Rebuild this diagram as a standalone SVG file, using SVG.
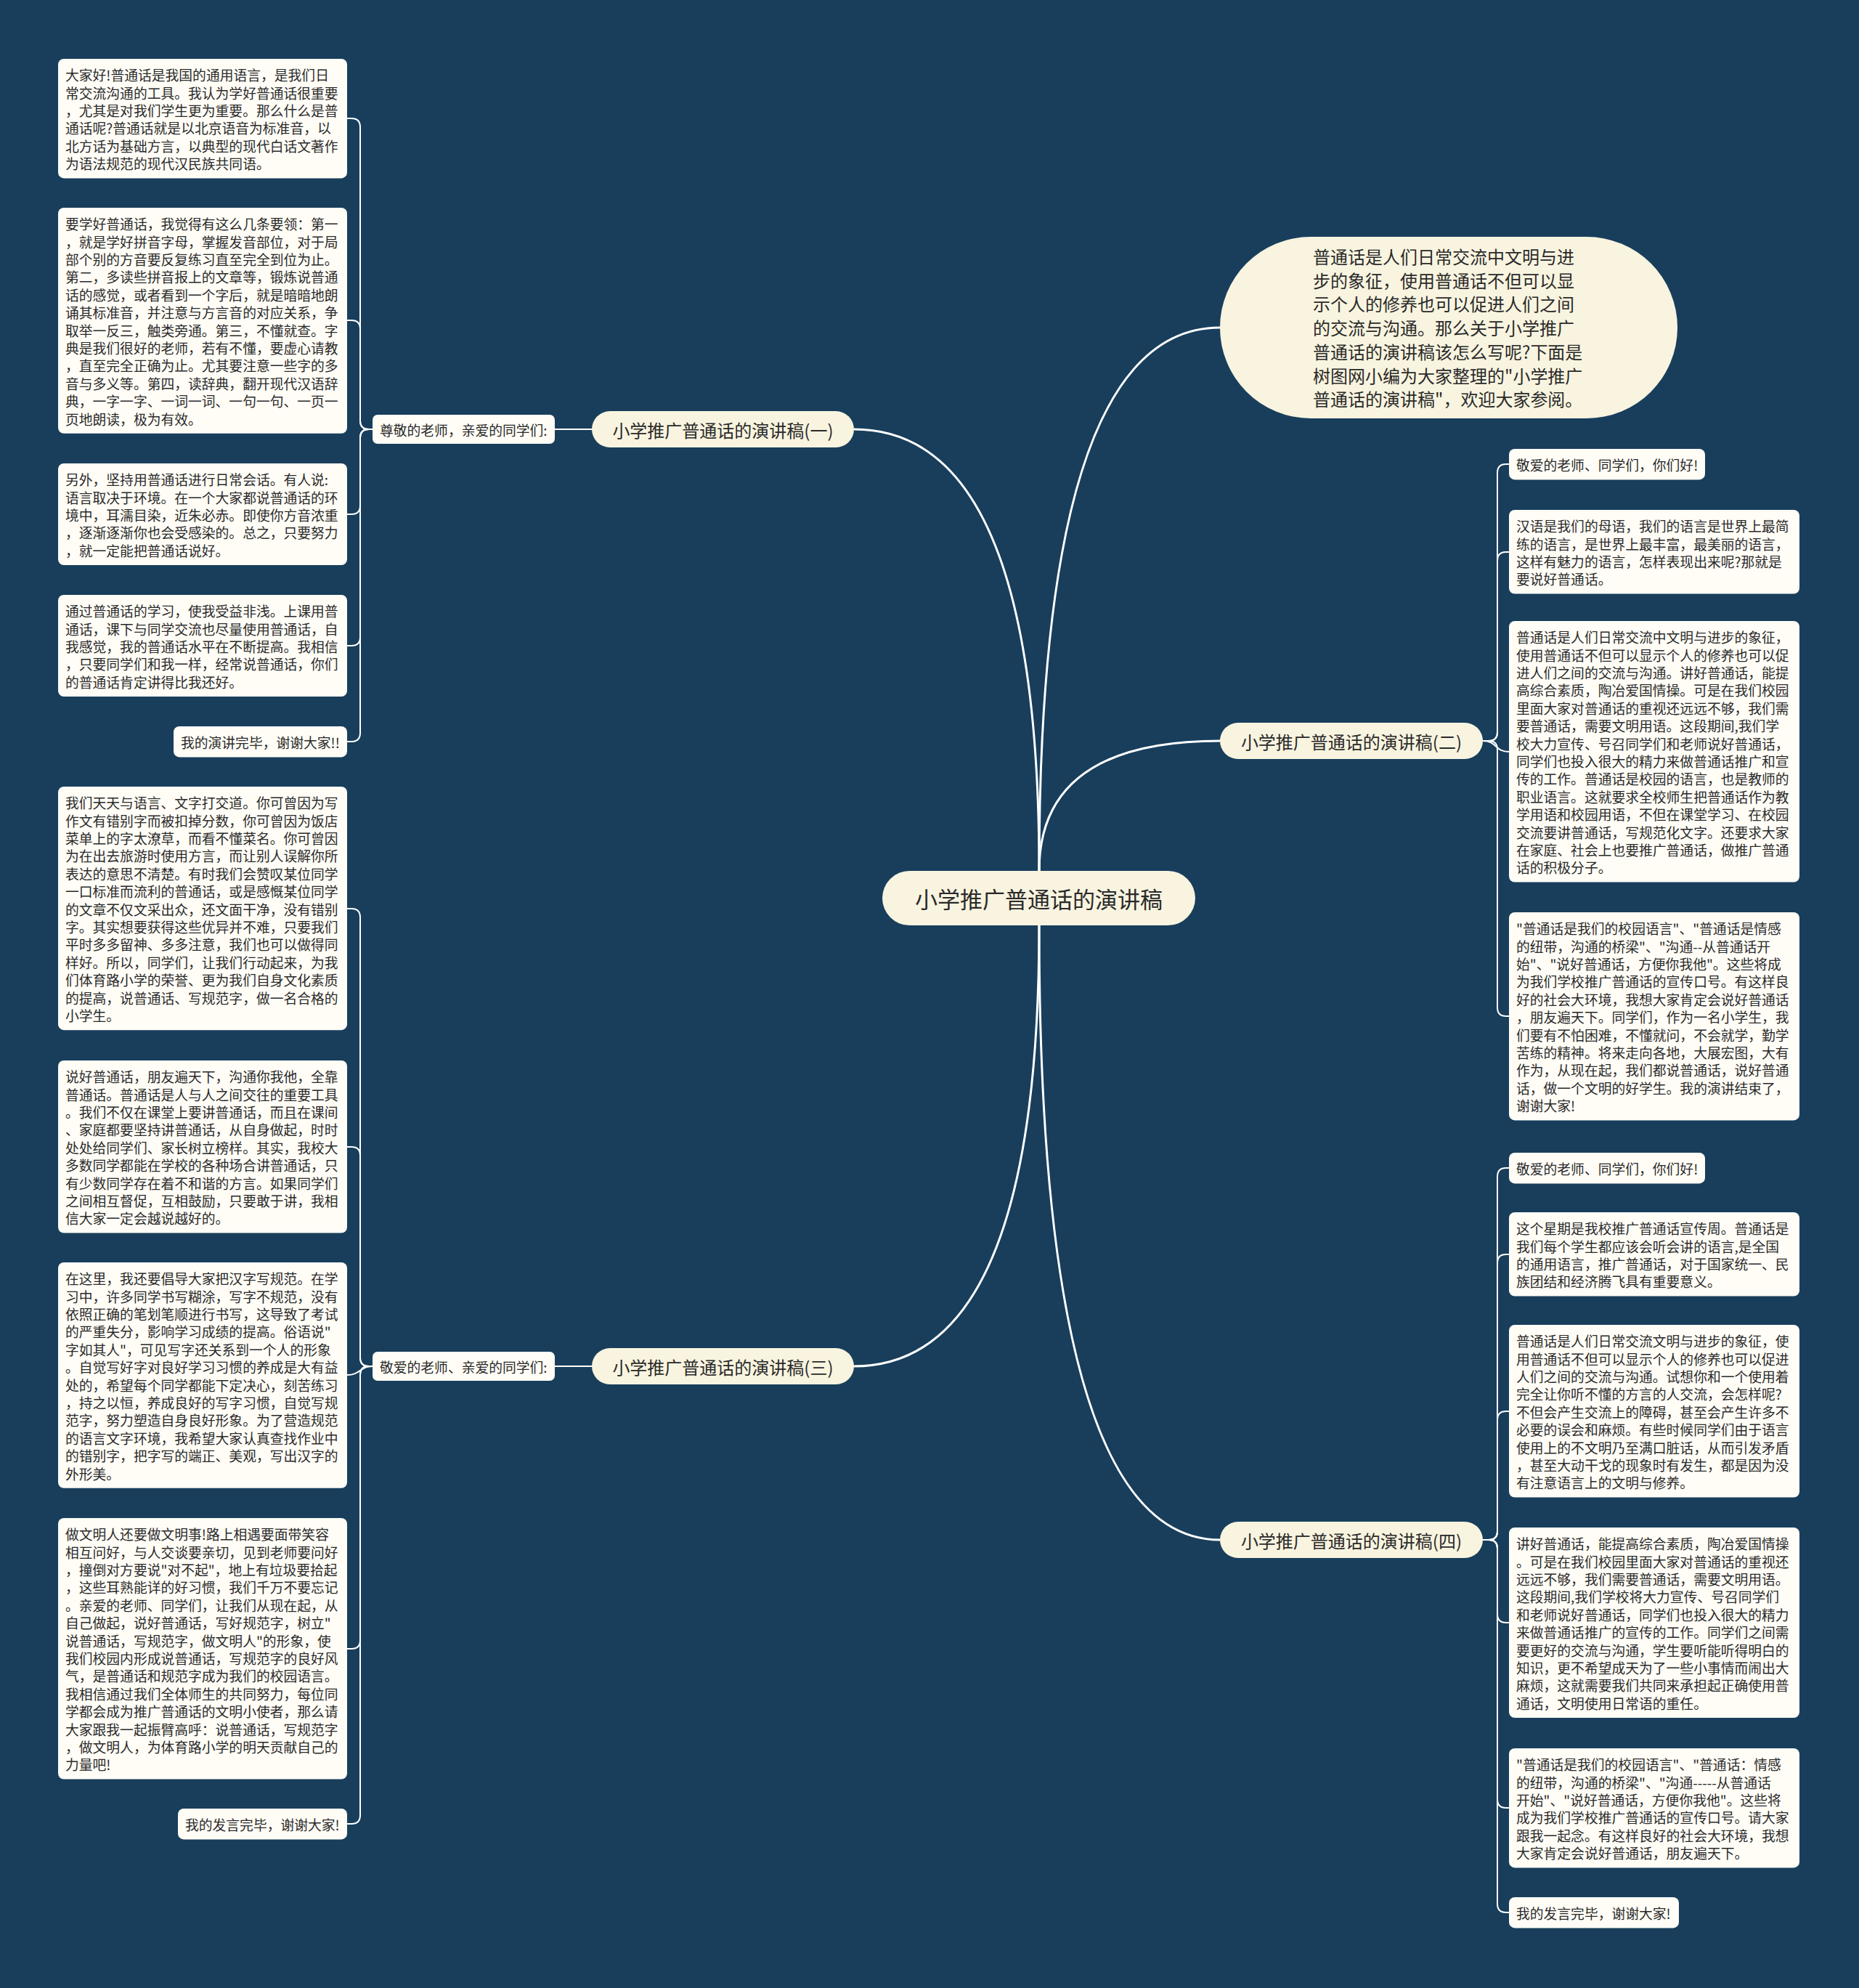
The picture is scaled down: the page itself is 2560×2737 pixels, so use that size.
<svg xmlns="http://www.w3.org/2000/svg" width="2560" height="2737" viewBox="0 0 2560 2737">
<style>
.bg{fill:#183E5C}
.leaf rect{fill:#FFFDF6}
.br rect,.root rect,.sum rect{fill:#F8F4DF}
text{font-family:"Noto Sans CJK SC","Noto Sans",sans-serif;fill:#2a2a2a;dominant-baseline:central}
.t{font-size:18.8px}
.bt{font-size:24px;text-anchor:middle}
.rt{font-size:31px;text-anchor:middle}
.st{font-size:24px}
.conn path{fill:none;stroke:#ffffff;stroke-width:2;stroke-linecap:round}
.conn path.main{stroke-width:3}
</style>
<rect class="bg" x="0" y="0" width="2560" height="2737"/>
<g class="conn" id="connectors">
<path class="main" d="M1431 1199 Q1431 591 1176 591"/>
<path class="main" d="M1431 1199 Q1431 451 1680 451"/>
<path class="main" d="M1431 1199 Q1431 1020 1680 1020"/>
<path class="main" d="M1431 1274 Q1431 1881 1176 1881"/>
<path class="main" d="M1431 1274 Q1431 2120 1680 2120"/>
<path d="M764 591 H815"/>
<path d="M764 1881 H815"/>
<path d="M513 591 H508 Q496 591 496 579 V175 Q496 163 484 163 H478"/>
<path d="M513 591 H508 Q496 591 496 579 V453 Q496 441 484 441 H478"/>
<path d="M513 591 H508 Q496 591 496 603 V696 Q496 708 484 708 H478"/>
<path d="M513 591 H508 Q496 591 496 603 V877 Q496 889 484 889 H478"/>
<path d="M513 591 H508 Q496 591 496 603 V1009 Q496 1021 484 1021 H478"/>
<path d="M513 1881 H508 Q496 1881 496 1869 V1263 Q496 1251 484 1251 H478"/>
<path d="M513 1881 H508 Q496 1881 496 1869 V1591 Q496 1579 484 1579 H478"/>
<path d="M513 1881 C496 1881 496 1893 478 1893"/>
<path d="M513 1881 H508 Q496 1881 496 1893 V2258 Q496 2270 484 2270 H478"/>
<path d="M513 1881 H508 Q496 1881 496 1893 V2499 Q496 2511 484 2511 H478"/>
<path d="M2042 1020 H2050 Q2062 1020 2062 1008 V651 Q2062 639 2074 639 H2078"/>
<path d="M2042 1020 H2050 Q2062 1020 2062 1008 V772 Q2062 760 2074 760 H2078"/>
<path d="M2042 1020 C2062 1020 2058 1035 2078 1035"/>
<path d="M2042 1020 H2050 Q2062 1020 2062 1032 V1387 Q2062 1399 2074 1399 H2078"/>
<path d="M2042 2120 H2050 Q2062 2120 2062 2108 V1620 Q2062 1608 2074 1608 H2078"/>
<path d="M2042 2120 H2050 Q2062 2120 2062 2108 V1739 Q2062 1727 2074 1727 H2078"/>
<path d="M2042 2120 H2050 Q2062 2120 2062 2108 V1955 Q2062 1943 2074 1943 H2078"/>
<path d="M2042 2120 H2050 Q2062 2120 2062 2132 V2222 Q2062 2234 2074 2234 H2078"/>
<path d="M2042 2120 H2050 Q2062 2120 2062 2132 V2477 Q2062 2489 2074 2489 H2078"/>
<path d="M2042 2120 H2050 Q2062 2120 2062 2132 V2621 Q2062 2633 2074 2633 H2078"/>
</g>

<g id="root" class="root"><rect x="1215" y="1199" width="431" height="75" rx="37.5"/><text class="rt" x="1430.5" y="1236.5">小学推广普通话的演讲稿</text></g>

<g id="summary" class="sum"><rect x="1680" y="326" width="630" height="250" rx="125"/>
<text class="st" x="1808" y="352"><tspan x="1808" dy="0">普通话是人们日常交流中文明与进</tspan><tspan x="1808" dy="32.7">步的象征，使用普通话不但可以显</tspan><tspan x="1808" dy="32.7">示个人的修养也可以促进人们之间</tspan><tspan x="1808" dy="32.7">的交流与沟通。那么关于小学推广</tspan><tspan x="1808" dy="32.7">普通话的演讲稿该怎么写呢?下面是</tspan><tspan x="1808" dy="32.7">树图网小编为大家整理的"小学推广</tspan><tspan x="1808" dy="32.7">普通话的演讲稿"，欢迎大家参阅。</tspan></text></g>

<g id="b1" class="br"><rect x="815" y="566" width="361" height="50" rx="25"/><text class="bt" x="995.5" y="591">小学推广普通话的演讲稿(一)</text></g>
<g id="b2" class="br"><rect x="1680" y="995" width="362" height="50" rx="25"/><text class="bt" x="1861" y="1020">小学推广普通话的演讲稿(二)</text></g>
<g id="b3" class="br"><rect x="815" y="1856" width="361" height="50" rx="25"/><text class="bt" x="995.5" y="1881">小学推广普通话的演讲稿(三)</text></g>
<g id="b4" class="br"><rect x="1680" y="2095" width="362" height="50" rx="25"/><text class="bt" x="1861" y="2120">小学推广普通话的演讲稿(四)</text></g>

<g id="lab1" class="leaf"><rect x="513" y="571" width="251" height="40" rx="7"/><text class="t" x="523" y="591">尊敬的老师，亲爱的同学们:</text></g>
<g id="lab3" class="leaf"><rect x="513" y="1861" width="251" height="40" rx="7"/><text class="t" x="523" y="1881">敬爱的老师、亲爱的同学们:</text></g>

<g id="l1" class="leaf"><rect x="80" y="81" width="398" height="164.4" rx="8"/><text class="t" x="90" y="102.2"><tspan x="90" dy="0">大家好!普通话是我国的通用语言，是我们日</tspan><tspan x="90" dy="24.4">常交流沟通的工具。我认为学好普通话很重要</tspan><tspan x="90" dy="24.4">，尤其是对我们学生更为重要。那么什么是普</tspan><tspan x="90" dy="24.4">通话呢?普通话就是以北京语音为标准音，以</tspan><tspan x="90" dy="24.4">北方话为基础方言，以典型的现代白话文著作</tspan><tspan x="90" dy="24.4">为语法规范的现代汉民族共同语。</tspan></text></g>

<g id="l2" class="leaf"><rect x="80" y="286" width="398" height="310.8" rx="8"/><text class="t" x="90" y="307.2"><tspan x="90" dy="0">要学好普通话，我觉得有这么几条要领：第一</tspan><tspan x="90" dy="24.4">，就是学好拼音字母，掌握发音部位，对于局</tspan><tspan x="90" dy="24.4">部个别的方音要反复练习直至完全到位为止。</tspan><tspan x="90" dy="24.4">第二，多读些拼音报上的文章等，锻炼说普通</tspan><tspan x="90" dy="24.4">话的感觉，或者看到一个字后，就是暗暗地朗</tspan><tspan x="90" dy="24.4">诵其标准音，并注意与方言音的对应关系，争</tspan><tspan x="90" dy="24.4">取举一反三，触类旁通。第三，不懂就查。字</tspan><tspan x="90" dy="24.4">典是我们很好的老师，若有不懂，要虚心请教</tspan><tspan x="90" dy="24.4">，直至完全正确为止。尤其要注意一些字的多</tspan><tspan x="90" dy="24.4">音与多义等。第四，读辞典，翻开现代汉语辞</tspan><tspan x="90" dy="24.4">典，一字一字、一词一词、一句一句、一页一</tspan><tspan x="90" dy="24.4">页地朗读，极为有效。</tspan></text></g>

<g id="l3" class="leaf"><rect x="80" y="638" width="398" height="140" rx="8"/><text class="t" x="90" y="659.2"><tspan x="90" dy="0">另外，坚持用普通话进行日常会话。有人说:</tspan><tspan x="90" dy="24.4">语言取决于环境。在一个大家都说普通话的环</tspan><tspan x="90" dy="24.4">境中，耳濡目染，近朱必赤。即使你方音浓重</tspan><tspan x="90" dy="24.4">，逐渐逐渐你也会受感染的。总之，只要努力</tspan><tspan x="90" dy="24.4">，就一定能把普通话说好。</tspan></text></g>

<g id="l4" class="leaf"><rect x="80" y="819" width="398" height="140" rx="8"/><text class="t" x="90" y="840.2"><tspan x="90" dy="0">通过普通话的学习，使我受益非浅。上课用普</tspan><tspan x="90" dy="24.4">通话，课下与同学交流也尽量使用普通话，自</tspan><tspan x="90" dy="24.4">我感觉，我的普通话水平在不断提高。我相信</tspan><tspan x="90" dy="24.4">，只要同学们和我一样，经常说普通话，你们</tspan><tspan x="90" dy="24.4">的普通话肯定讲得比我还好。</tspan></text></g>

<g id="l5" class="leaf"><rect x="239" y="1000" width="239" height="42.4" rx="8"/><text class="t" x="249" y="1021.2">我的演讲完毕，谢谢大家!!</text></g>

<g id="l6" class="leaf"><rect x="80" y="1083" width="398" height="335.2" rx="8"/><text class="t" x="90" y="1104.2"><tspan x="90" dy="0">我们天天与语言、文字打交道。你可曾因为写</tspan><tspan x="90" dy="24.4">作文有错别字而被扣掉分数，你可曾因为饭店</tspan><tspan x="90" dy="24.4">菜单上的字太潦草，而看不懂菜名。你可曾因</tspan><tspan x="90" dy="24.4">为在出去旅游时使用方言，而让别人误解你所</tspan><tspan x="90" dy="24.4">表达的意思不清楚。有时我们会赞叹某位同学</tspan><tspan x="90" dy="24.4">一口标准而流利的普通话，或是感慨某位同学</tspan><tspan x="90" dy="24.4">的文章不仅文采出众，还文面干净，没有错别</tspan><tspan x="90" dy="24.4">字。其实想要获得这些优异并不难，只要我们</tspan><tspan x="90" dy="24.4">平时多多留神、多多注意，我们也可以做得同</tspan><tspan x="90" dy="24.4">样好。所以，同学们，让我们行动起来，为我</tspan><tspan x="90" dy="24.4">们体育路小学的荣誉、更为我们自身文化素质</tspan><tspan x="90" dy="24.4">的提高，说普通话、写规范字，做一名合格的</tspan><tspan x="90" dy="24.4">小学生。</tspan></text></g>

<g id="l7" class="leaf"><rect x="80" y="1460" width="398" height="237.6" rx="8"/><text class="t" x="90" y="1481.2"><tspan x="90" dy="0">说好普通话，朋友遍天下，沟通你我他，全靠</tspan><tspan x="90" dy="24.4">普通话。普通话是人与人之间交往的重要工具</tspan><tspan x="90" dy="24.4">。我们不仅在课堂上要讲普通话，而且在课间</tspan><tspan x="90" dy="24.4">、家庭都要坚持讲普通话，从自身做起，时时</tspan><tspan x="90" dy="24.4">处处给同学们、家长树立榜样。其实，我校大</tspan><tspan x="90" dy="24.4">多数同学都能在学校的各种场合讲普通话，只</tspan><tspan x="90" dy="24.4">有少数同学存在着不和谐的方言。如果同学们</tspan><tspan x="90" dy="24.4">之间相互督促，互相鼓励，只要敢于讲，我相</tspan><tspan x="90" dy="24.4">信大家一定会越说越好的。</tspan></text></g>

<g id="l8" class="leaf"><rect x="80" y="1738" width="398" height="310.8" rx="8"/><text class="t" x="90" y="1759.2"><tspan x="90" dy="0">在这里，我还要倡导大家把汉字写规范。在学</tspan><tspan x="90" dy="24.4">习中，许多同学书写糊涂，写字不规范，没有</tspan><tspan x="90" dy="24.4">依照正确的笔划笔顺进行书写，这导致了考试</tspan><tspan x="90" dy="24.4">的严重失分，影响学习成绩的提高。俗语说"</tspan><tspan x="90" dy="24.4">字如其人"，可见写字还关系到一个人的形象</tspan><tspan x="90" dy="24.4">。自觉写好字对良好学习习惯的养成是大有益</tspan><tspan x="90" dy="24.4">处的，希望每个同学都能下定决心，刻苦练习</tspan><tspan x="90" dy="24.4">，持之以恒，养成良好的写字习惯，自觉写规</tspan><tspan x="90" dy="24.4">范字，努力塑造自身良好形象。为了营造规范</tspan><tspan x="90" dy="24.4">的语言文字环境，我希望大家认真查找作业中</tspan><tspan x="90" dy="24.4">的错别字，把字写的端正、美观，写出汉字的</tspan><tspan x="90" dy="24.4">外形美。</tspan></text></g>

<g id="l9" class="leaf"><rect x="80" y="2090" width="398" height="359.6" rx="8"/><text class="t" x="90" y="2111.2"><tspan x="90" dy="0">做文明人还要做文明事!路上相遇要面带笑容</tspan><tspan x="90" dy="24.4">相互问好，与人交谈要亲切，见到老师要问好</tspan><tspan x="90" dy="24.4">，撞倒对方要说"对不起"，地上有垃圾要拾起</tspan><tspan x="90" dy="24.4">，这些耳熟能详的好习惯，我们千万不要忘记</tspan><tspan x="90" dy="24.4">。亲爱的老师、同学们，让我们从现在起，从</tspan><tspan x="90" dy="24.4">自己做起，说好普通话，写好规范字，树立"</tspan><tspan x="90" dy="24.4">说普通话，写规范字，做文明人"的形象，使</tspan><tspan x="90" dy="24.4">我们校园内形成说普通话，写规范字的良好风</tspan><tspan x="90" dy="24.4">气，是普通话和规范字成为我们的校园语言。</tspan><tspan x="90" dy="24.4">我相信通过我们全体师生的共同努力，每位同</tspan><tspan x="90" dy="24.4">学都会成为推广普通话的文明小使者，那么请</tspan><tspan x="90" dy="24.4">大家跟我一起振臂高呼：说普通话，写规范字</tspan><tspan x="90" dy="24.4">，做文明人，为体育路小学的明天贡献自己的</tspan><tspan x="90" dy="24.4">力量吧!</tspan></text></g>

<g id="l10" class="leaf"><rect x="245" y="2490" width="233" height="42.4" rx="8"/><text class="t" x="255" y="2511.2">我的发言完毕，谢谢大家!</text></g>

<g id="r1" class="leaf"><rect x="2078" y="618" width="270" height="42.4" rx="8"/><text class="t" x="2088" y="639.2">敬爱的老师、同学们，你们好!</text></g>

<g id="r2" class="leaf"><rect x="2078" y="702" width="400" height="115.6" rx="8"/><text class="t" x="2088" y="723.2"><tspan x="2088" dy="0">汉语是我们的母语，我们的语言是世界上最简</tspan><tspan x="2088" dy="24.4">练的语言，是世界上最丰富，最美丽的语言，</tspan><tspan x="2088" dy="24.4">这样有魅力的语言，怎样表现出来呢?那就是</tspan><tspan x="2088" dy="24.4">要说好普通话。</tspan></text></g>

<g id="r3" class="leaf"><rect x="2078" y="855" width="400" height="359.6" rx="8"/><text class="t" x="2088" y="876.2"><tspan x="2088" dy="0">普通话是人们日常交流中文明与进步的象征，</tspan><tspan x="2088" dy="24.4">使用普通话不但可以显示个人的修养也可以促</tspan><tspan x="2088" dy="24.4">进人们之间的交流与沟通。讲好普通话，能提</tspan><tspan x="2088" dy="24.4">高综合素质，陶冶爱国情操。可是在我们校园</tspan><tspan x="2088" dy="24.4">里面大家对普通话的重视还远远不够，我们需</tspan><tspan x="2088" dy="24.4">要普通话，需要文明用语。这段期间,我们学</tspan><tspan x="2088" dy="24.4">校大力宣传、号召同学们和老师说好普通话，</tspan><tspan x="2088" dy="24.4">同学们也投入很大的精力来做普通话推广和宣</tspan><tspan x="2088" dy="24.4">传的工作。普通话是校园的语言，也是教师的</tspan><tspan x="2088" dy="24.4">职业语言。这就要求全校师生把普通话作为教</tspan><tspan x="2088" dy="24.4">学用语和校园用语，不但在课堂学习、在校园</tspan><tspan x="2088" dy="24.4">交流要讲普通话，写规范化文字。还要求大家</tspan><tspan x="2088" dy="24.4">在家庭、社会上也要推广普通话，做推广普通</tspan><tspan x="2088" dy="24.4">话的积极分子。</tspan></text></g>

<g id="r4" class="leaf"><rect x="2078" y="1256" width="400" height="286.4" rx="8"/><text class="t" x="2088" y="1277.2"><tspan x="2088" dy="0">"普通话是我们的校园语言"、"普通话是情感</tspan><tspan x="2088" dy="24.4">的纽带，沟通的桥梁"、"沟通--从普通话开</tspan><tspan x="2088" dy="24.4">始"、"说好普通话，方便你我他"。这些将成</tspan><tspan x="2088" dy="24.4">为我们学校推广普通话的宣传口号。有这样良</tspan><tspan x="2088" dy="24.4">好的社会大环境，我想大家肯定会说好普通话</tspan><tspan x="2088" dy="24.4">，朋友遍天下。同学们，作为一名小学生，我</tspan><tspan x="2088" dy="24.4">们要有不怕困难，不懂就问，不会就学，勤学</tspan><tspan x="2088" dy="24.4">苦练的精神。将来走向各地，大展宏图，大有</tspan><tspan x="2088" dy="24.4">作为，从现在起，我们都说普通话，说好普通</tspan><tspan x="2088" dy="24.4">话，做一个文明的好学生。我的演讲结束了，</tspan><tspan x="2088" dy="24.4">谢谢大家!</tspan></text></g>

<g id="r5" class="leaf"><rect x="2078" y="1587" width="270" height="42.4" rx="8"/><text class="t" x="2088" y="1608.2">敬爱的老师、同学们，你们好!</text></g>

<g id="r6" class="leaf"><rect x="2078" y="1669" width="400" height="115.6" rx="8"/><text class="t" x="2088" y="1690.2"><tspan x="2088" dy="0">这个星期是我校推广普通话宣传周。普通话是</tspan><tspan x="2088" dy="24.4">我们每个学生都应该会听会讲的语言,是全国</tspan><tspan x="2088" dy="24.4">的通用语言，推广普通话，对于国家统一、民</tspan><tspan x="2088" dy="24.4">族团结和经济腾飞具有重要意义。</tspan></text></g>

<g id="r7" class="leaf"><rect x="2078" y="1824" width="400" height="237.6" rx="8"/><text class="t" x="2088" y="1845.2"><tspan x="2088" dy="0">普通话是人们日常交流文明与进步的象征，使</tspan><tspan x="2088" dy="24.4">用普通话不但可以显示个人的修养也可以促进</tspan><tspan x="2088" dy="24.4">人们之间的交流与沟通。试想你和一个使用着</tspan><tspan x="2088" dy="24.4">完全让你听不懂的方言的人交流，会怎样呢?</tspan><tspan x="2088" dy="24.4">不但会产生交流上的障碍，甚至会产生许多不</tspan><tspan x="2088" dy="24.4">必要的误会和麻烦。有些时候同学们由于语言</tspan><tspan x="2088" dy="24.4">使用上的不文明乃至满口脏话，从而引发矛盾</tspan><tspan x="2088" dy="24.4">，甚至大动干戈的现象时有发生，都是因为没</tspan><tspan x="2088" dy="24.4">有注意语言上的文明与修养。</tspan></text></g>

<g id="r8" class="leaf"><rect x="2078" y="2103" width="400" height="262" rx="8"/><text class="t" x="2088" y="2124.2"><tspan x="2088" dy="0">讲好普通话，能提高综合素质，陶冶爱国情操</tspan><tspan x="2088" dy="24.4">。可是在我们校园里面大家对普通话的重视还</tspan><tspan x="2088" dy="24.4">远远不够，我们需要普通话，需要文明用语。</tspan><tspan x="2088" dy="24.4">这段期间,我们学校将大力宣传、号召同学们</tspan><tspan x="2088" dy="24.4">和老师说好普通话，同学们也投入很大的精力</tspan><tspan x="2088" dy="24.4">来做普通话推广的宣传的工作。同学们之间需</tspan><tspan x="2088" dy="24.4">要更好的交流与沟通，学生要听能听得明白的</tspan><tspan x="2088" dy="24.4">知识，更不希望成天为了一些小事情而闹出大</tspan><tspan x="2088" dy="24.4">麻烦，这就需要我们共同来承担起正确使用普</tspan><tspan x="2088" dy="24.4">通话，文明使用日常语的重任。</tspan></text></g>

<g id="r9" class="leaf"><rect x="2078" y="2407" width="400" height="164.4" rx="8"/><text class="t" x="2088" y="2428.2"><tspan x="2088" dy="0">"普通话是我们的校园语言"、"普通话：情感</tspan><tspan x="2088" dy="24.4">的纽带，沟通的桥梁"、"沟通-----从普通话</tspan><tspan x="2088" dy="24.4">开始"、"说好普通话，方便你我他"。这些将</tspan><tspan x="2088" dy="24.4">成为我们学校推广普通话的宣传口号。请大家</tspan><tspan x="2088" dy="24.4">跟我一起念。有这样良好的社会大环境，我想</tspan><tspan x="2088" dy="24.4">大家肯定会说好普通话，朋友遍天下。</tspan></text></g>

<g id="r10" class="leaf"><rect x="2078" y="2612" width="234" height="42.4" rx="8"/><text class="t" x="2088" y="2633.2">我的发言完毕，谢谢大家!</text></g>
</svg>
